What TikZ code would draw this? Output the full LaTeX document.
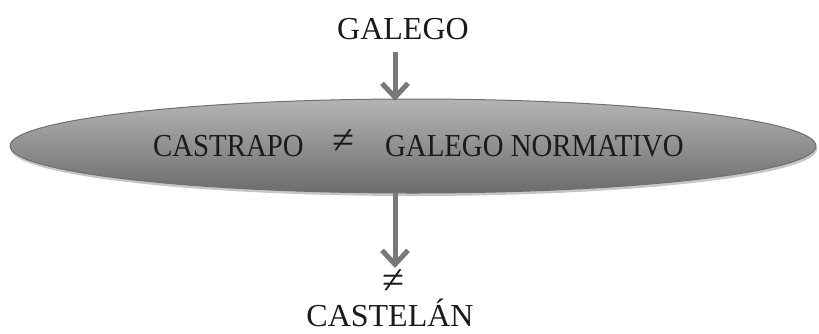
\documentclass[tikz,border=0pt]{standalone}
\usepackage{fontspec}
\setmainfont{Liberation Serif}
\newfontfamily\cambriaish[FakeStretch=0.9]{Liberation Serif}
\usetikzlibrary{arrows.meta,shapes.geometric}
\definecolor{elltop}{HTML}{B4B4B4}
\definecolor{ellbot}{HTML}{6C6C6C}
\definecolor{ellborder}{HTML}{707070}
\definecolor{arrowgray}{HTML}{787878}
\definecolor{txt}{HTML}{1A1A1A}
\tikzset{
  lbl/.style={font=\fontsize{32}{35}\selectfont, text=txt, inner sep=0pt},
  inlbl/.style={font=\cambriaish\fontsize{32}{36}\selectfont, text=txt, inner sep=0pt},
  neqsym/.style={font=\fontsize{40}{42}\selectfont, text=txt, inner sep=0pt},
  flow/.style={draw=arrowgray, line width=5pt, -{Straight Barb[length=14pt,width=26pt,line width=5pt]}},
  bigell/.style={ellipse, minimum width=806pt, minimum height=94pt, inner sep=0pt,
    top color=elltop, bottom color=ellbot, draw=ellborder, line width=1pt},
}
\begin{document}
\begin{tikzpicture}[x=1pt,y=-1pt]
\useasboundingbox (0,0) rectangle (819,333);
% shadow
\fill[gray!45] (414,149) ellipse [x radius=403pt, y radius=47pt];
\node[bigell] (ell) at (413,146) {};
\node[inlbl, anchor=base west] (castrapo) at (153,156) {CASTRAPO};
\node[neqsym, anchor=center] (neqa) at (343,142) {≠};
\node[inlbl, anchor=base west] (norm) at (385,156) {GALEGO NORMATIVO};
\node[lbl, anchor=base] (galego) at (403,39) {GALEGO};
\node[neqsym, anchor=center] (neqb) at (393,282) {≠};
\node[lbl, anchor=base] (castelan) at (390,326) {CASTELÁN};
\coordinate (topstart) at (395,52);
\coordinate (topend) at (395,101);
\coordinate (botstart) at (395,193);
\coordinate (botend) at (395,268);
\draw[flow] (topstart) -- (topend);
\draw[flow] (botstart) -- (botend);
\end{tikzpicture}
\end{document}
